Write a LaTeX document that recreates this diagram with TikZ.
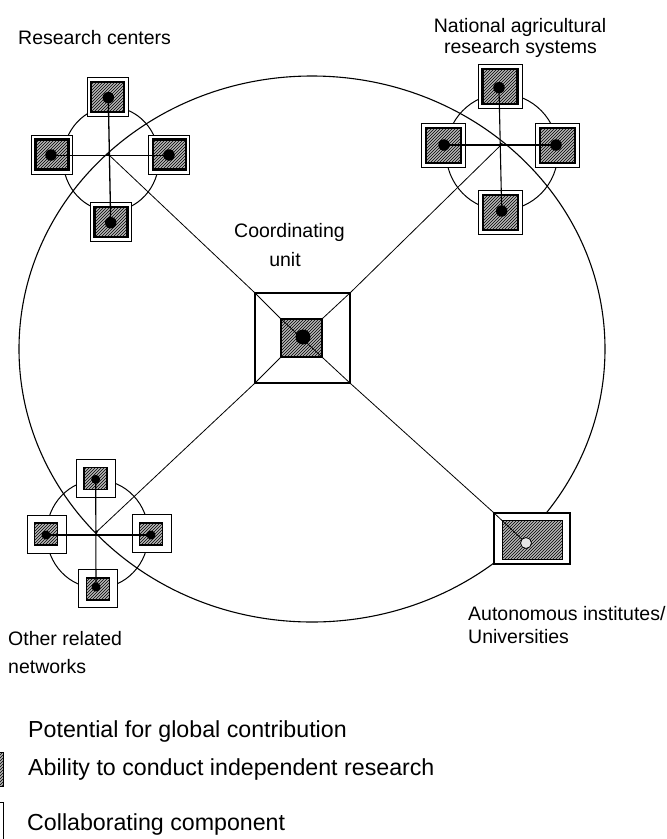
\documentclass[tikz,border=0pt]{standalone}
\usepackage{fontspec}
\setmainfont{Liberation Sans}
\usetikzlibrary{patterns}
\begin{document}
\begin{tikzpicture}[x=1pt,y=-1pt,
  lab/.style={font=\fontsize{19.5}{22}\selectfont, inner sep=0pt, anchor=base west},
  leg/.style={font=\fontsize{23.2}{26}\selectfont, inner sep=0pt, anchor=base west},
  frame/.style n args={2}{rectangle, draw, line width=0.9pt, fill=white, inner sep=0pt, minimum width=#1, minimum height=#2},
  hatchbox/.style n args={3}{rectangle, draw, line width=#3, fill=gray!58, postaction={pattern=north east lines, pattern color=black}, inner sep=0pt, minimum width=#1, minimum height=#2},
  blob/.style={circle, fill=black, inner sep=0pt, minimum size=#1},
  ring/.style={line width=1pt},
  link/.style={line width=0.8pt},
]
\useasboundingbox (0,0) rectangle (667,839);
\clip (0,0) rectangle (667,839);

% big ellipse and cluster circles
\draw[line width=1.1pt] (312,349) ellipse [x radius=293pt, y radius=273pt];
\draw[ring] (111,159) ellipse [x radius=48pt, y radius=52pt];
\draw[ring] (502,152) ellipse [x radius=56pt, y radius=58pt];
\draw[ring] (97.5,534) ellipse [x radius=51pt, y radius=54pt];

% hubs
\node[blob=3pt] (rcH) at (108.5,154.5) {};
\node[blob=3pt] (naH) at (501.7,144.3) {};
\node[blob=3pt] (orH) at (96.7,531.7) {};

% coordinating unit
\node[frame={95pt}{90pt}, line width=1.3pt] (cuO) at (302.5,338) {};
\node[hatchbox={41pt}{38pt}{1.2pt}] (cuI) at (301.5,338) {};

% autonomous institutes
\node[frame={76pt}{51pt}, line width=1.4pt] (auO) at (532,538.5) {};
\node[hatchbox={60pt}{39pt}{1pt}] (auI) at (532,539.5) {};

% research centers squares
\node[frame={41pt}{39pt}] (rcT) at (107.8,97.2) {};
\node[hatchbox={33pt}{30pt}{2.2pt}] (rcTi) at (107.6,97) {};
\node[frame={41pt}{39pt}] (rcL) at (51.7,154.5) {};
\node[hatchbox={33pt}{30pt}{2.2pt}] (rcLi) at (52,154.5) {};
\node[frame={41pt}{39pt}] (rcR) at (169.2,154.5) {};
\node[hatchbox={33pt}{30pt}{2.2pt}] (rcRi) at (169.5,154.5) {};
\node[frame={41pt}{39pt}] (rcB) at (110.9,222) {};
\node[hatchbox={33pt}{30pt}{2.2pt}] (rcBi) at (111,222) {};

% national agricultural research systems squares
\node[frame={44pt}{44pt}] (naT) at (500,86.2) {};
\node[hatchbox={35pt}{35pt}{2.2pt}] (naTi) at (500,86.2) {};
\node[frame={44pt}{44pt}] (naL) at (443.3,145.5) {};
\node[hatchbox={35pt}{35pt}{2.2pt}] (naLi) at (443.3,145.5) {};
\node[frame={44pt}{44pt}] (naR) at (557.5,145.5) {};
\node[hatchbox={35pt}{35pt}{2.2pt}] (naRi) at (557.5,145.5) {};
\node[frame={44pt}{44pt}] (naB) at (500.5,212.5) {};
\node[hatchbox={35pt}{35pt}{2.2pt}] (naBi) at (500.5,212.5) {};

% other related networks squares
\node[frame={39pt}{38pt}] (orT) at (96,478) {};
\node[hatchbox={23pt}{22pt}{1.2pt}] (orTi) at (95.5,478.7) {};
\node[frame={39pt}{38pt}] (orL) at (46.5,534) {};
\node[hatchbox={23pt}{22pt}{1.2pt}] (orLi) at (46,534) {};
\node[frame={39pt}{38pt}] (orR) at (151.5,533) {};
\node[hatchbox={23pt}{22pt}{1.2pt}] (orRi) at (151,534) {};
\node[frame={39pt}{38pt}] (orB) at (98,588) {};
\node[hatchbox={23pt}{22pt}{1.2pt}] (orBi) at (98,589) {};

% dots
\node[blob=11.5pt] (rcTd) at (108.3,97.7) {};
\node[blob=11.5pt] (rcLd) at (51,155) {};
\node[blob=11.5pt] (rcRd) at (169,155) {};
\node[blob=11.5pt] (rcBd) at (110.7,222.7) {};
\node[blob=11.5pt] (naTd) at (499,87.7) {};
\node[blob=11.5pt] (naLd) at (444,145) {};
\node[blob=11.5pt] (naRd) at (556,145) {};
\node[blob=11.5pt] (naBd) at (501.7,211) {};
\node[blob=9pt] (orTd) at (95.7,479.3) {};
\node[blob=9pt] (orLd) at (46,535) {};
\node[blob=9pt] (orRd) at (151,535) {};
\node[blob=9pt] (orBd) at (96,587) {};
\node[blob=15pt] (cuD) at (303,337) {};

% cross links within clusters
\draw[line width=1.3pt] (rcTd.center) -- (rcBd.center);
\draw[line width=0.7pt] (rcLd.center) -- (rcRd.center);
\draw[line width=1.1pt] (naTd.center) -- (naBd.center);
\draw[line width=1.1pt] (naLd.center) -- (naRd.center);
\draw[line width=1.1pt] (orTd.center) -- (orBd.center);
\draw[line width=1.1pt] (orLd.center) -- (orRd.center);

% diagonals through the coordinating unit
\draw[link] (rcH.center) -- (cuO.north west) -- (cuI.north west) -- (cuI.south east)
  -- (cuO.south east) -- (auO.north west) -- (526,543);
\draw[link] (naH.center) -- (cuO.north east) -- (cuI.north east);
\draw[link] (cuI.south west) -- (cuO.south west) -- (orH.center);
\node[circle, draw, fill=gray!20, line width=0.8pt, inner sep=0pt, minimum size=11pt] (auC) at (526,543) {};

% labels
\node[lab] (tRC) at (18,44) {Research centers};
\node[lab, anchor=base] (tNA1) at (520,32) {National agricultural};
\node[lab, anchor=base] (tNA2) at (520.5,53) {research systems};
\node[lab, anchor=base] (tCU1) at (289.5,237) {Coordinating};
\node[lab, anchor=base] (tCU2) at (285,266) {unit};
\node[lab] (tOR1) at (8,645) {Other related};
\node[lab] (tOR2) at (8,673) {networks};
\node[lab] (tAU1) at (468,620) {Autonomous institutes/};
\node[lab] (tAU2) at (468,643) {Universities};

% legend
\node[leg] (l1) at (28,737) {Potential for global contribution};
\node[leg] (l2) at (28,775) {Ability to conduct independent research};
\node[leg] (l3) at (27,830) {Collaborating component};
\node[hatchbox={30pt}{34pt}{1pt}, anchor=east] (lgH) at (4,769.5) {};
\node[frame={30pt}{44pt}, anchor=north east] (lgF) at (3.5,802) {};
\end{tikzpicture}
\end{document}
